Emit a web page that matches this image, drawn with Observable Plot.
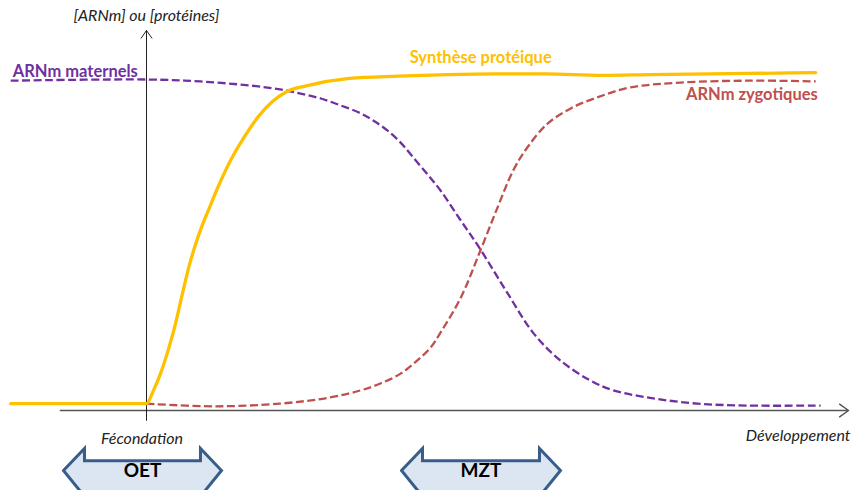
<!DOCTYPE html>
<html><head><meta charset="utf-8">
<script src="https://cdn.jsdelivr.net/npm/d3@7"></script>
<script src="https://cdn.jsdelivr.net/npm/@observablehq/plot@0.6"></script>
<style>body{margin:0;background:#fff}</style>
</head><body><div id="chart"></div>
<script>
// Time axis (0 = fécondation) and level (0..100)
const proteinT = [-19.4, 0, 1, 2, 3, 4, 5, 6, 7, 8, 9, 10, 12, 14, 16, 18, 20, 23, 29, 36, 43, 50, 57, 65, 72, 86, 95.6];
const proteinV = [1.8, 1.8, 5.3, 9.7, 15.3, 21.8, 29.7, 37.4, 43.7, 48.9, 53.4, 57.9, 65.8, 72.1, 77.4, 81.3, 83.9, 85.5, 87.4, 88, 88.4, 88.6, 88.6, 88.2, 88.4, 88.7, 88.9];

const maternalT = [-19.4, 0, 7.7, 14.9, 19.1, 22, 24.9, 27.7, 30.6, 32.4, 34.4, 36.3, 38.1, 40.3, 42, 44.9, 47.7, 51.6, 55.3, 59.1, 63.4, 66.7, 72.4, 78.7, 85.9, 96.3];
const maternalV = [86.8, 87.1, 86.6, 85.5, 84.5, 83.4, 82.1, 80.3, 78.2, 76.3, 73.7, 70.5, 66.6, 61.8, 57.9, 50, 42.4, 30.8, 20.3, 13.2, 7.9, 5.3, 3.2, 1.8, 1.3, 1.3];

const zygoticT = [0, 9.6, 19, 26.1, 30.6, 33.4, 36.3, 38.7, 40.6, 42, 44.9, 47.7, 50.1, 52.4, 54.4, 57.3, 60.6, 64.4, 69.1, 76.3, 86.3, 95.6];
const zygoticV = [1.8, 1.1, 1.8, 3.4, 5.3, 7.1, 9.7, 13.2, 16.6, 20.5, 29.7, 42.1, 53.2, 63.2, 69.2, 75.5, 79.5, 82.4, 85, 86.3, 86.8, 86.6];

// Axes
const axisXStart = -12.3, axisXEnd = 100.3;
const axisYStart = -2.6, axisYEnd = 100;

// Phases (double arrows)
const phaseNames = ["OET", "MZT"];
const phaseStart = [-11.86, 36.43];
const phaseEnd = [10.71, 59.14];

// Labels
const curveLabels = ["ARNm maternels", "Synthèse protéique", "ARNm zygotiques"];
const curveLabelX = [-19.1, 37.6, 95.9];
const curveLabelY = [89.2, 92.9, 83.2];
const curveColors = ["#7030a0", "#ffc000", "#c0504d"];
const curveAnchors = ["start", "start", "end"];

const axisLabels = ["[ARNm] ou [protéines]", "Fécondation", "Développement"];
const axisLabelX = [0, -0.64, 100.57];
const axisLabelY = [103.9, -7.4, -6.8];
const axisAnchors = ["middle", "middle", "end"];

const rows = (t, v) => t.map((x, i) => ({x, y: v[i]}));

// double arrow polygon geometry (in data units)
const headLen = 3, yTip = -15.8, yHeadTop = -10, yBodyTop = -13.2, yBottom = -22.6;
const arrowRows = phaseNames.flatMap((name, i) => {
  const a = phaseStart[i], b = phaseEnd[i];
  const pts = [
    [a, yTip], [a + headLen, yHeadTop], [a + headLen, yBodyTop], [b - headLen, yBodyTop],
    [b - headLen, yHeadTop], [b, yTip], [b - headLen, yBottom], [a + headLen, yBottom], [a, yTip]
  ];
  return pts.map(([x, y]) => ({name, x, y}));
});
const phaseRows = phaseNames.map((name, i) => ({name, x: (phaseStart[i] + phaseEnd[i]) / 2, y: yTip}));

const curveRows = curveLabels.map((t, i) => ({t, x: curveLabelX[i], y: curveLabelY[i], c: curveColors[i], a: curveAnchors[i]}));
const axisRows = axisLabels.map((t, i) => ({t, x: axisLabelX[i], y: axisLabelY[i], a: axisAnchors[i]}));

const textMarks = (data, opts) => ["start", "middle", "end"].map(a =>
  Plot.text(data.filter(d => d.a === a), {x: "x", y: "y", text: "t", textAnchor: a, lineAnchor: "middle", ...opts}));

const chart = Plot.plot({
  width: 852, height: 490, margin: 0,
  x: {domain: [0, 100], range: [146, 846], axis: null},
  y: {domain: [0, 100], range: [410, 30], axis: null},
  style: {fontFamily: "Lato, sans-serif", background: "white", overflow: "hidden"},
  marks: [
    Plot.arrow([{x1: axisXStart, y1: 0, x2: axisXEnd, y2: 0}], {x1: "x1", y1: "y1", x2: "x2", y2: "y2", stroke: "#555", strokeWidth: 1.5, headLength: 11, headAngle: 70}),
    Plot.arrow([{x1: 0, y1: axisYStart, x2: 0, y2: axisYEnd}], {x1: "x1", y1: "y1", x2: "x2", y2: "y2", stroke: "#222", strokeWidth: 1, headLength: 14, headAngle: 70}),
    Plot.line(rows(maternalT, maternalV), {x: "x", y: "y", stroke: "#7030a0", strokeWidth: 2.3, strokeDasharray: "8,3.5", strokeLinecap: "butt", curve: "catmull-rom"}),
    Plot.line(rows(zygoticT, zygoticV), {x: "x", y: "y", stroke: "#c0504d", strokeWidth: 2.3, strokeDasharray: "8,3.5", strokeLinecap: "butt", curve: "catmull-rom"}),
    Plot.line(rows(proteinT, proteinV), {x: "x", y: "y", stroke: "#ffc000", strokeWidth: 3.3, curve: "monotone-x"}),
    Plot.line(arrowRows, {x: "x", y: "y", z: "name", fill: "#dce6f2", stroke: "#385d8a", strokeWidth: 3, strokeLinejoin: "miter", strokeMiterlimit: 10}),
    Plot.text(phaseRows, {x: "x", y: "y", text: "name", fontSize: 19, fontWeight: "bold", fill: "#000", lineAnchor: "middle"}),
    ...textMarks(curveRows, {fill: "c", fontSize: 16.5, fontWeight: "bold"}),
    ...textMarks(axisRows, {fill: "#222", fontSize: 16, fontStyle: "italic"})
  ]
});
document.getElementById("chart").appendChild(chart);
</script>
</body></html>
